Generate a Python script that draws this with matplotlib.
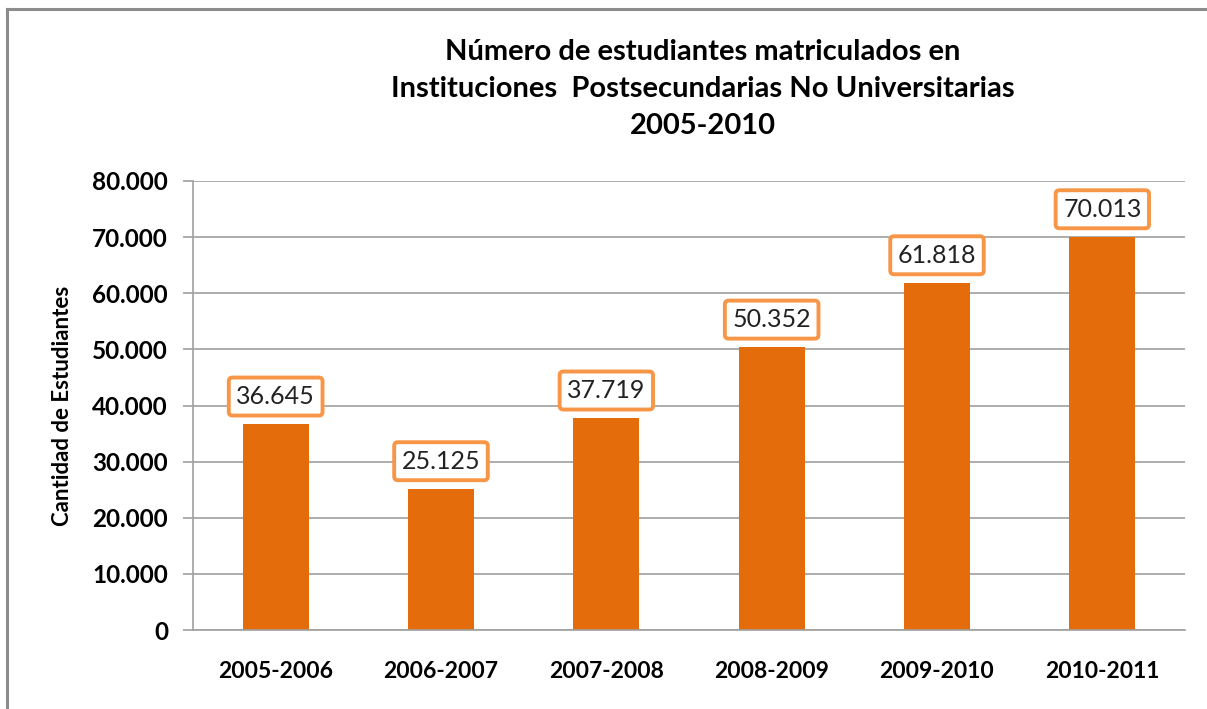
import matplotlib.pyplot as plt
from matplotlib.lines import Line2D
from matplotlib.ticker import FuncFormatter

# data
periodos = ["2005-2006", "2006-2007", "2007-2008", "2008-2009", "2009-2010", "2010-2011"]
estudiantes = [36645, 25125, 37719, 50352, 61818, 70013]
y_ticks = [0, 10000, 20000, 30000, 40000, 50000, 60000, 70000, 80000]

bar_color = "#E46C0A"
box_color = "#F79646"
grid_color = "#A0A0A0"

plt.rcParams['font.family'] = ['Lato', 'DejaVu Sans']

fig = plt.figure(figsize=(12.07, 7.09), dpi=100)
ax = fig.add_axes([193 / 1207, 1 - 630 / 709, 992 / 1207, 449 / 709])

x = list(range(len(periodos)))
ax.bar(x, estudiantes, width=0.4, color=bar_color, zorder=2)

# data labels in boxes
for xi, v in zip(x, estudiantes):
    label = f"{v:,}".replace(",", ".")
    ax.annotate(label, (xi, v), xytext=(0, 20), textcoords="offset points",
                ha="center", va="center", fontsize=18, color="#222222",
                bbox=dict(boxstyle="round,pad=0.3,rounding_size=0.15", fc="white",
                          ec=box_color, lw=2.8), zorder=3)

ax.set_xlim(-0.5, len(periodos) - 0.5)
ax.set_ylim(0, 80000)
ax.set_yticks(y_ticks)
ax.yaxis.set_major_formatter(FuncFormatter(lambda v, p: f"{int(v):,}".replace(",", ".")))
ax.set_xticks(x)
ax.set_xticklabels(periodos)
ax.grid(axis="y", color=grid_color, lw=1.2, zorder=0)
ax.set_axisbelow(True)

for side in ["top", "right"]:
    ax.spines[side].set_visible(False)
for side in ["left", "bottom"]:
    ax.spines[side].set_color(grid_color)
    ax.spines[side].set_linewidth(1.2)

ax.tick_params(axis="y", length=7, color=grid_color, width=1.2, pad=11, labelsize=17.5)
ax.tick_params(axis="x", length=0, pad=22, labelsize=16.5)
for t in ax.get_yticklabels() + ax.get_xticklabels():
    t.set_fontweight("bold")

ax.set_ylabel("Cantidad de Estudiantes", fontsize=16, fontweight="bold", labelpad=14)

fig.text(703 / 1207, 1 - 89 / 709,
         "Número de estudiantes matriculados en\nInstituciones  Postsecundarias No Universitarias\n2005-2010",
         ha="center", va="center", fontsize=21, fontweight="bold", linespacing=1.52)

# outer chart frame (only left and top edges visible)
fig.add_artist(Line2D([7 / 1207, 7 / 1207], [0, 1 - 9 / 709], color="#8C8C8C", lw=2.2))
fig.add_artist(Line2D([7 / 1207, 1], [1 - 9 / 709, 1 - 9 / 709], color="#8C8C8C", lw=2.2))

fig.savefig("out.png", dpi=100)
